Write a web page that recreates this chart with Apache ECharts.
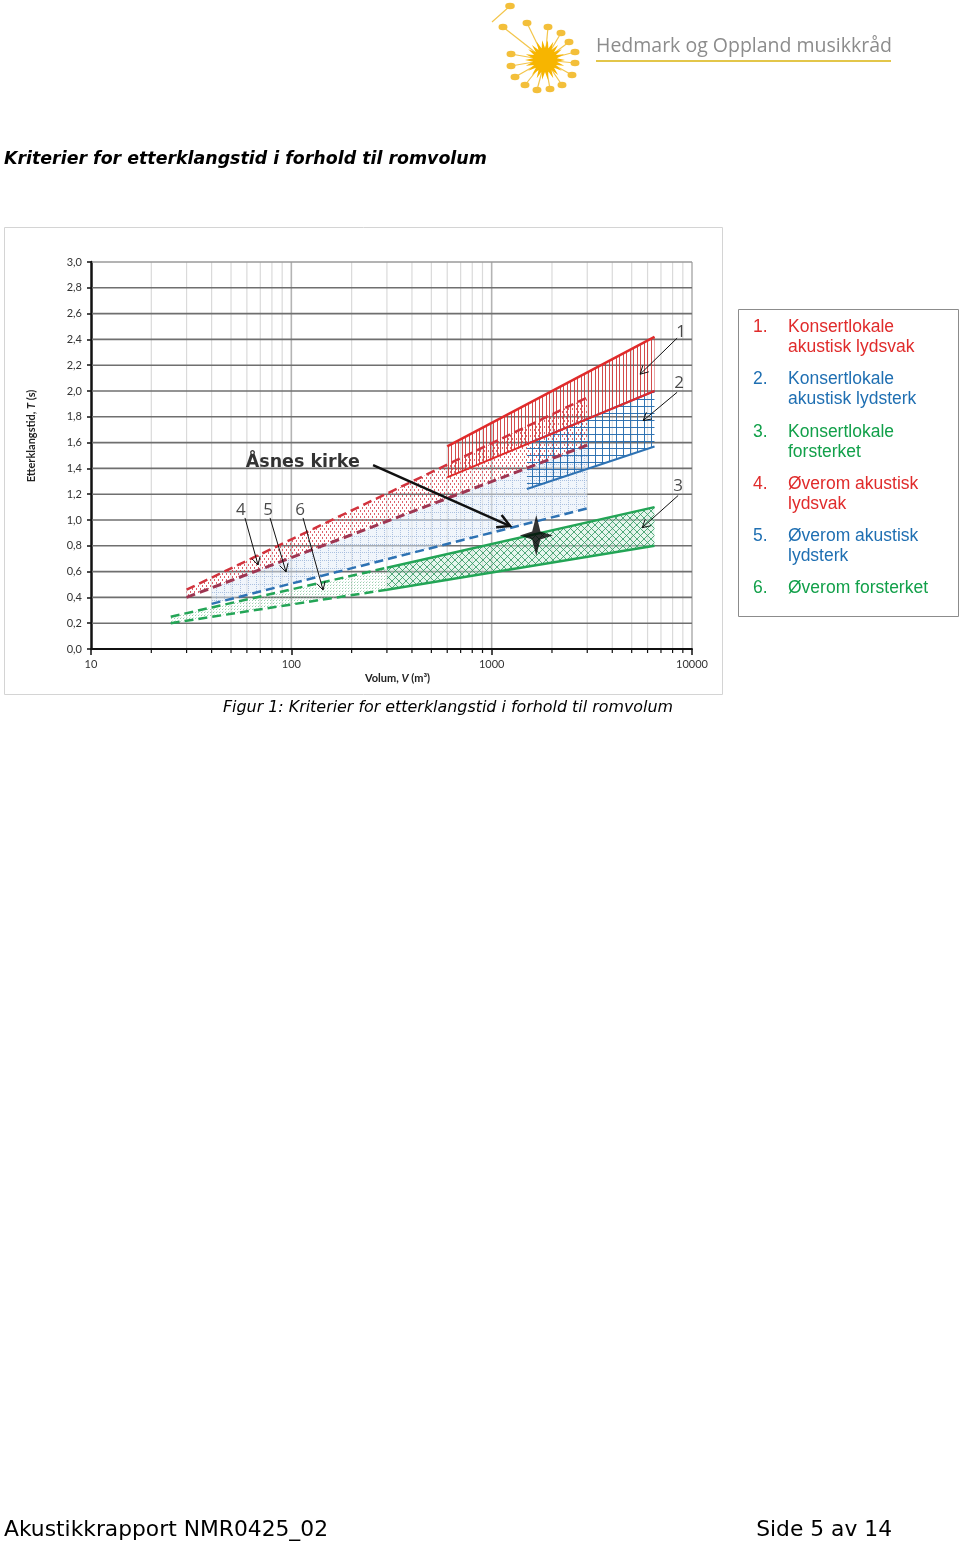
<!DOCTYPE html>
<html><head><meta charset="utf-8">
<script src="https://cdn.jsdelivr.net/npm/echarts@6/dist/echarts.min.js"></script>
<style>html,body{margin:0;padding:0;background:#fff;}#c{width:960px;height:1544px;}</style>
</head><body><div id="c"></div>
<script>
// ---------- DATA ----------
// 1. Konsertlokale akustisk lydsvak
const b1Vol = [600, 6500], b1Upper = [1.57, 2.42], b1Lower = [1.33, 2.00];
// 2. Konsertlokale akustisk lydsterk
const b2Vol = [1500, 6500], b2Upper = [1.59, 2.00], b2Lower = [1.24, 1.57];
// 3. Konsertlokale forsterket
const b3Vol = [300, 6500], b3Upper = [0.63, 1.10], b3Lower = [0.46, 0.80];
// 4. Øverom akustisk lydsvak
const b4Vol = [30, 3000], b4Upper = [0.46, 1.95], b4Lower = [0.40, 1.58];
// 5. Øverom akustisk lydsterk
const b5Vol = [40, 3000], b5Upper = [0.47, 1.58], b5Lower = [0.35, 1.09];
// 6. Øverom forsterket
const b6Vol = [25, 300], b6Upper = [0.25, 0.63], b6Lower = [0.20, 0.46];
// Åsnes kirke
const asnesPoint = [1670, 0.88];

const yTicks = [0, 0.2, 0.4, 0.6, 0.8, 1.0, 1.2, 1.4, 1.6, 1.8, 2.0, 2.2, 2.4, 2.6, 2.8, 3.0];
const xTickLabels = ['10', '100', '1000', '10000'];
const xMinorGrid = [20, 30, 40, 50, 60, 70, 80, 90, 200, 300, 400, 500, 600, 700, 800, 900, 2000, 3000, 4000, 5000, 6000, 7000, 8000, 9000];
const xMajorGrid = [100, 1000, 10000];

const legendNums = ['1.', '2.', '3.', '4.', '5.', '6.'];
const legendTexts = [['Konsertlokale', 'akustisk lydsvak'], ['Konsertlokale', 'akustisk lydsterk'], ['Konsertlokale', 'forsterket'], ['Øverom akustisk', 'lydsvak'], ['Øverom akustisk', 'lydsterk'], ['Øverom forsterket']];

// annotation labels & arrows (data coords)
const numLabels = ['1', '2', '3', '4', '5', '6'];
const numLabelPos = [[8825, 2.46], [8630, 2.06], [8530, 1.26], [56, 1.08], [76.5, 1.08], [110.5, 1.08]];
const numArrows = [[8427, 2.41, 5508, 2.13], [8427, 1.99, 5700, 1.77], [8530, 1.19, 5640, 0.94], [58.7, 1.016, 68.2, 0.651], [78.3, 1.016, 94.1, 0.597], [114.4, 1.016, 144, 0.457]];
const asnesLabelPos = [114, 1.445];
const asnesArrow = [255.9, 1.426, 1236, 0.953];

// ---------- PATTERNS ----------
function pat(w, h, draw) {
  const c = document.createElement('canvas'); c.width = w; c.height = h;
  const g = c.getContext('2d'); draw(g); return { image: c, repeat: 'repeat' };
}
const RED = '#e02b2b', DRED = '#9e3652', BLUE = '#2e72b3', GREEN = '#23a556';
const p1 = pat(7, 4, g => { g.fillStyle = 'rgba(205,45,45,0.85)'; g.fillRect(0, 0, 1, 4); g.fillRect(3, 0, 1, 4); });
const p2 = pat(7, 7, g => { g.fillStyle = 'rgba(40,110,175,0.95)'; g.fillRect(0, 0, 7, 1); g.fillRect(0, 0, 1, 7); });
const p3 = pat(7, 7, g => { g.fillStyle='rgba(200,235,215,0.45)'; g.fillRect(0,0,7,7); g.strokeStyle = 'rgba(45,150,95,0.8)'; g.lineWidth = 1; g.beginPath(); g.moveTo(-1, -1); g.lineTo(8, 8); g.moveTo(8, -1); g.lineTo(-1, 8); g.stroke(); });
const p4 = pat(4, 6, g => { g.fillStyle = 'rgba(215,70,80,0.85)'; g.fillRect(0, 0, 1, 2); g.fillRect(2, 3, 1, 2); });
const p5 = pat(8, 8, g => { g.fillStyle='rgba(225,235,248,0.5)'; g.fillRect(0,0,8,8); g.fillStyle = 'rgba(160,185,220,0.85)'; for (let i = 0; i < 8; i += 2) { g.fillRect(i, 0, 1, 1); g.fillRect(0, i, 1, 1); } });
const p6 = pat(3, 3, g => { g.fillStyle = 'rgba(120,190,145,0.75)'; g.fillRect(0, 0, 1, 1); g.fillStyle='rgba(170,215,185,0.5)'; g.fillRect(1, 2, 1, 1); });

// ---------- SERIES HELPERS ----------
function bandSeries(vol, up, lo, fill, z) {
  return {
    type: 'custom', z: z, silent: true, data: [[vol[0], up[0]]],
    renderItem: (params, api) => {
      const pts = [];
      for (let i = 0; i < vol.length; i++) pts.push(api.coord([vol[i], up[i]]));
      for (let i = vol.length - 1; i >= 0; i--) pts.push(api.coord([vol[i], lo[i]]));
      return { type: 'polygon', shape: { points: pts }, style: { fill: fill } };
    }
  };
}
function lineSeries(vol, t, color, width, dashed, z) {
  return {
    type: 'line', z: z, silent: true, showSymbol: false, symbol: 'none',
    data: vol.map((v, i) => [v, t[i]]),
    lineStyle: { color: color, width: width, type: dashed ? [9, 5] : 'solid', cap: 'butt' }
  };
}
function arrowSeries(list, width, head, z) {
  return {
    type: 'custom', z: z, silent: true, clip: false,
    data: list.map(a => [a[0], a[1], a[2], a[3]]),
    renderItem: (params, api) => {
      const a = api.coord([api.value(0), api.value(1)]);
      const b = api.coord([api.value(2), api.value(3)]);
      const ang = Math.atan2(b[1] - a[1], b[0] - a[0]);
      const h1 = [b[0] - head * Math.cos(ang - 0.5), b[1] - head * Math.sin(ang - 0.5)];
      const h2 = [b[0] - head * Math.cos(ang + 0.5), b[1] - head * Math.sin(ang + 0.5)];
      return { type: 'group', children: [
        { type: 'line', shape: { x1: a[0], y1: a[1], x2: b[0], y2: b[1] }, style: { stroke: '#111', lineWidth: width } },
        { type: 'polyline', shape: { points: [h1, b, h2] }, style: { stroke: '#111', lineWidth: width, fill: null } }
      ] };
    }
  };
}

const chart = echarts.init(document.getElementById('c'), null, { renderer: 'canvas' });
const FONT_AX = 'Lato, "Liberation Sans", sans-serif';

// logo (decoration)
const sunC = [545, 60];
const notes = [[503, 27], [527, 23], [548, 27], [561, 33], [569, 42], [575, 52], [575, 63], [572, 75], [562, 85], [550, 89], [537, 90], [525, 85], [515, 77], [511, 66], [511, 54]];
const logoEls = [];
notes.forEach(n => {
  logoEls.push({ type: 'line', shape: { x1: sunC[0], y1: sunC[1], x2: n[0], y2: n[1] }, style: { stroke: '#f3c54a', lineWidth: 1.2 } });
  logoEls.push({ type: 'circle', x: n[0], y: n[1], scaleX: 1.4, shape: { cx: 0, cy: 0, r: 3.2 }, style: { fill: '#f3bf3a' } });
});
logoEls.push({ type: 'line', shape: { x1: 492, y1: 22, x2: 510, y2: 6 }, style: { stroke: '#f3c54a', lineWidth: 1.2 } });
logoEls.push({ type: 'circle', x: 510, y: 6, scaleX: 1.5, shape: { cx: 0, cy: 0, r: 3.2 }, style: { fill: '#f3bf3a' } });
const starPts = [];
for (let i = 0; i < 44; i++) { const r = i % 2 ? 12 : 20; const a = i * Math.PI / 22; starPts.push([sunC[0] + r * Math.cos(a), sunC[1] + r * Math.sin(a)]); }
logoEls.push({ type: 'polygon', shape: { points: starPts }, style: { fill: '#f7b500' } });
logoEls.push({ type: 'circle', shape: { cx: sunC[0], cy: sunC[1], r: 12 }, style: { fill: '#f7b500' } });

const legendEls = [{ type: 'rect', shape: { x: 738.5, y: 309.5, width: 220, height: 307 }, style: { fill: '#fff', stroke: '#8c8c8c', lineWidth: 1 } }];
const legendColors = [RED, '#1f6fb2', '#12a04a', RED, '#1f6fb2', '#12a04a'];
const legendY = [327, 379, 432, 484, 536, 588];
const LFONT = '17.5px "Liberation Sans", Arial, sans-serif';
legendNums.forEach((n, i) => {
  legendEls.push({ type: 'text', x: 753, y: legendY[i], style: { text: n, fill: legendColors[i], font: LFONT, textVerticalAlign: 'middle' } });
  legendTexts[i].forEach((t, j) => {
    legendEls.push({ type: 'text', x: 788, y: legendY[i] + j * 20.5, style: { text: t, fill: legendColors[i], font: LFONT, textVerticalAlign: 'middle' } });
  });
});

const option = {
  backgroundColor: '#fff',
  animation: false,
  grid: { left: 91, right: 268, top: 262, bottom: 895, containLabel: false },
  xAxis: {
    type: 'log', logBase: 10, min: 10, max: 10000,
    name: '{b|Volum, }{i|V}{b| (m³)}', nameLocation: 'middle', nameGap: 24,
    nameTextStyle: { padding: [0, 0, 0, 12], rich: { b: { fontFamily: FONT_AX, fontWeight: 'bold', fontSize: 11, color: '#222' }, i: { fontFamily: FONT_AX, fontWeight: 'bold', fontStyle: 'italic', fontSize: 11, color: '#222' } } },
    axisLine: { show: true, lineStyle: { color: '#111', width: 2 } },
    axisTick: { show: true, length: 6, lineStyle: { color: '#111', width: 1.5 } },
    axisLabel: { fontFamily: FONT_AX, fontSize: 11, color: '#333', margin: 10, formatter: v => xTickLabels[Math.round(Math.log10(v)) - 1] },
    splitLine: { show: false }, minorTick: { show: false }
  },
  yAxis: {
    type: 'value', min: 0, max: 3, interval: 0.2,
    axisLine: { show: true, lineStyle: { color: '#111', width: 2.5 } },
    axisTick: { show: true, length: 4, lineStyle: { color: '#111', width: 1.5 } },
    axisLabel: { fontFamily: FONT_AX, fontSize: 11, color: '#333', margin: 9, formatter: v => v.toFixed(1).replace('.', ',') },
    splitLine: { show: false }
  },
  graphic: [
    { type: 'group', children: logoEls },
    { type: 'text', x: 596, y: 46, style: { text: 'Hedmark og Oppland musikkråd', fill: '#8c8c8c', font: '19.5px "Open Sans", "Noto Sans", sans-serif', textVerticalAlign: 'middle' } },
    { type: 'rect', shape: { x: 596, y: 60, width: 295, height: 2 }, style: { fill: '#e3c64a' } },
    { type: 'text', x: 4, y: 159, style: { text: 'Kriterier for etterklangstid i forhold til romvolum', fill: '#000', font: 'italic bold 17.4px "DejaVu Sans", sans-serif', textVerticalAlign: 'middle' } },
    { type: 'rect', z: -10, shape: { x: 4.5, y: 227.5, width: 718, height: 467 }, style: { fill: 'none', stroke: '#d4d4d4', lineWidth: 1 } },
    { type: 'text', x: 31, y: 436, rotation: Math.PI / 2, style: { text: '{b|Etterklangstid, }{i|T}{b| (s)}', align: 'center', verticalAlign: 'middle', rich: { b: { fontFamily: FONT_AX, fontWeight: 'bold', fontSize: 11, fill: '#222' }, i: { fontFamily: FONT_AX, fontWeight: 'bold', fontStyle: 'italic', fontSize: 11, fill: '#222' } } } },
    { type: 'group', children: legendEls },
    { type: 'text', x: 448, y: 708, style: { text: 'Figur 1: Kriterier for etterklangstid i forhold til romvolum', fill: '#000', font: 'italic 15.9px "DejaVu Sans", sans-serif', textAlign: 'center', textVerticalAlign: 'middle' } },
    { type: 'text', x: 4, y: 1530, style: { text: 'Akustikkrapport NMR0425_02', fill: '#000', font: '21.8px "DejaVu Sans", sans-serif', textVerticalAlign: 'middle' } },
    { type: 'text', x: 892, y: 1530, style: { text: 'Side 5 av 14', fill: '#000', font: '21.8px "DejaVu Sans", sans-serif', textAlign: 'right', textVerticalAlign: 'middle' } }
  ],
  series: [
    {
      type: 'custom', z: 1, silent: true, clip: false,
      data: xMinorGrid.map(v => [v, 0]).concat(xMajorGrid.map(v => [v, 1])),
      renderItem: (params, api) => {
        const major = api.value(1) === 1;
        const a = api.coord([api.value(0), 0]), b = api.coord([api.value(0), 3]);
        const ch = [{ type: 'line', shape: { x1: a[0], y1: a[1] - 1, x2: b[0], y2: b[1] }, style: { stroke: major ? '#b4b4b4' : '#dadada', lineWidth: major ? 1.6 : 1.2 } }];
        if (!major) ch.push({ type: 'line', shape: { x1: a[0], y1: a[1], x2: a[0], y2: a[1] + 4 }, style: { stroke: '#111', lineWidth: 1.2 } });
        return { type: 'group', children: ch };
      }
    },
    {
      type: 'custom', z: 1, silent: true,
      data: yTicks.filter(t => t > 0).map(t => [10, t]),
      renderItem: (params, api) => {
        const a = api.coord([10, api.value(1)]), b = api.coord([10000, api.value(1)]);
        const top = api.value(1) >= 2.99;
        return { type: 'line', shape: { x1: a[0] + 1, y1: a[1], x2: b[0], y2: b[1] }, style: { stroke: top ? '#9a9a9a' : '#6f6f6f', lineWidth: 1.6 } };
      }
    },
    bandSeries(b5Vol, b5Upper, b5Lower, p5, 2),
    bandSeries(b6Vol, b6Upper, b6Lower, p6, 2),
    bandSeries(b4Vol, b4Upper, b4Lower, p4, 2),
    bandSeries(b3Vol, b3Upper, b3Lower, p3, 2),
    bandSeries(b2Vol, b2Upper, b2Lower, p2, 2),
    bandSeries(b1Vol, b1Upper, b1Lower, p1, 2),
    lineSeries(b6Vol, b6Upper, GREEN, 2.5, true, 3),
    lineSeries(b6Vol, b6Lower, GREEN, 2.5, true, 3),
    lineSeries(b5Vol, b5Lower, BLUE, 2.5, true, 3),
    lineSeries(b4Vol, b4Upper, '#d2333d', 2.5, true, 3),
    lineSeries(b4Vol, b4Lower, DRED, 3, true, 3),
    lineSeries(b3Vol, b3Upper, GREEN, 2.5, false, 3),
    lineSeries(b3Vol, b3Lower, GREEN, 2.5, false, 3),
    lineSeries(b2Vol, b2Lower, BLUE, 2, false, 3),
    lineSeries(b2Vol, b2Upper, '#5a5aa8', 2, false, 3),
    lineSeries(b1Vol, b1Upper, RED, 2.5, false, 3),
    lineSeries(b1Vol, b1Lower, RED, 2, false, 3),
    arrowSeries(numArrows, 1, 9, 4),
    arrowSeries([asnesArrow], 2.5, 14, 4),
    {
      type: 'scatter', z: 5, silent: true, symbolSize: 0,
      data: numLabelPos,
      label: { show: true, position: 'inside', formatter: p => numLabels[p.dataIndex], fontFamily: '"Open Sans", "Noto Sans", sans-serif', fontSize: 17, color: '#1a1a1a', textBorderWidth: 0 }
    },
    {
      type: 'scatter', z: 5, silent: true, symbolSize: 0,
      data: [asnesLabelPos],
      label: { show: true, position: 'inside', formatter: 'Åsnes kirke', fontFamily: '"DejaVu Sans", sans-serif', fontWeight: 'bold', fontSize: 17.5, color: '#000', textBorderWidth: 0 }
    },
    {
      type: 'scatter', z: 6, silent: true,
      symbol: 'path://M0,-20 L4,-4 L16,0 L4,4 L0,20 L-4,4 L-16,0 L-4,-4 Z',
      symbolSize: [33, 41], itemStyle: { color: '#000' },
      data: [asnesPoint]
    }
  ]
};
chart.setOption(option);
</script>
</body></html>
